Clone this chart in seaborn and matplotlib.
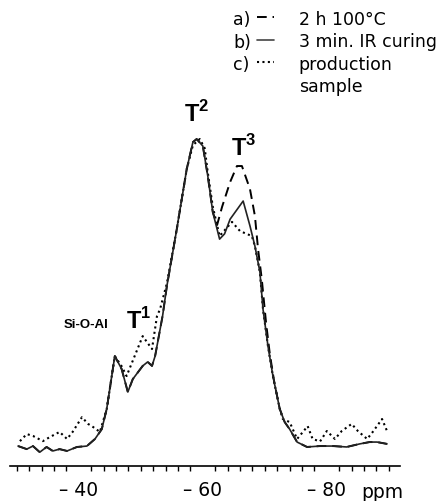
import numpy as np
import pandas as pd
import matplotlib
matplotlib.use("Agg")
import matplotlib.pyplot as plt
from matplotlib.lines import Line2D
from matplotlib.ticker import MultipleLocator
import seaborn as sns

sns.set_style("white")
plt.rcParams['font.family'] = ['DejaVu Sans']
plt.rcParams['text.color'] = 'black'
plt.rcParams['xtick.color'] = 'black'
plt.rcParams['mathtext.fontset'] = 'custom'
plt.rcParams['mathtext.bf'] = 'Liberation Sans:bold'
plt.rcParams['mathtext.rm'] = 'Liberation Sans:bold'

# b) 3 min. IR curing (solid)
ppm_b = [-30.2, -31.6, -32.6, -33.7, -34.8, -35.8, -36.9, -38.1, -39.7, -41.3,
         -42.6, -43.7, -44.5, -45.8, -46.9, -47.9, -48.7, -50.3, -51.1, -51.8,
         -52.3, -53.5, -54.2, -55.8, -57.4, -58.4, -59.0, -60.0, -60.8, -61.6,
         -62.7, -63.5, -64.4, -66.5, -67.6, -68.4, -69.2, -69.7, -70.5, -71.3,
         -72.4, -73.2, -74.0, -75.2, -76.8, -78.9, -81.0, -83.2, -85.3, -86.9,
         -88.1, -89.7]
int_b = [0, -1.0, 0, -2.0, -0.3, -1.6, -1.0, -1.6, -0.3, 0,
         2.3, 5.5, 12.1, 29.3, 25.1, 17.6, 21.8, 26.1, 27.4, 26.1,
         29.3, 42.3, 52.1, 70.7, 90.2, 99.0, 100, 97.7, 87.9, 76.2,
         67.4, 69.1, 73.9, 79.8, 71.7, 65.1, 56.7, 44.6, 32.6, 22.8,
         12.1, 7.8, 5.5, 1.3, -0.3, 0, 0, -0.3, 0.7, 1.3,
         1.3, 0.7]

# a) 2 h 100°C (dashed)
ppm_a = ppm_b[:30] + [-62.3, -63.1, -64.4, -65.5, -66.3, -67.6, -68.4, -68.9,
                      -69.5, -70.2, -70.8, -71.5] + ppm_b[40:]
int_a = int_b[:30] + [72.0, 77.9, 86.0, 91.2, 91.2, 83.7, 74.9, 64.2,
                      54.4, 40.0, 30.0, 21.0] + int_b[40:]

# c) production sample (dotted)
ppm_c = [-30.5, -31.6, -32.6, -34.2, -35.3, -36.9, -38.1, -39.0, -40.5, -41.5,
         -42.3, -43.4, -44.5, -45.8, -46.9, -47.7, -50.3, -51.8, -52.6, -53.1,
         -54.2, -55.8, -57.4, -58.4, -59.5, -60.3, -60.8, -61.6, -62.7, -64.7,
         -66.0, -67.9, -68.4, -69.2, -69.7, -70.5, -71.3, -72.4, -72.9, -74.0,
         -75.2, -76.5, -76.9, -77.7, -78.9, -80.0, -81.3, -82.4, -84.0, -85.0,
         -86.5, -87.4, -88.9, -89.7]
int_c = [1.6, 3.9, 3.3, 1.6, 2.9, 4.6, 2.3, 4.6, 9.4, 7.2,
         6.2, 4.6, 12.1, 29.3, 26.0, 22.8, 35.8, 31.6, 42.3, 44.6,
         53.0, 70.7, 90.2, 98.0, 100, 97.0, 89.0, 78.0, 68.4, 73.0,
         70.0, 68.4, 65.1, 56.7, 44.6, 32.6, 22.8, 12.1, 8.8, 7.8,
         2.3, 5.5, 6.5, 2.3, 1.5, 4.9, 2.3, 4.9, 7.2, 4.9,
         2.3, 4.6, 8.8, 4.9]

major_ticks = [-40, -60, -80]
major_labels = ["– 40", "– 60", "– 80"]

dash_a = (0, (5, 3))
dot_c = (0, (1, 1.6))

fig = plt.figure(figsize=(4.43, 5.02), dpi=100)
ax = fig.add_axes([0.0226, 0.0697, 0.8804, 0.9303])

sns.lineplot(x=ppm_c, y=int_c, ax=ax, color="black", lw=1.5, linestyle=dot_c, sort=False)
sns.lineplot(x=ppm_a, y=int_a, ax=ax, color="black", lw=1.4, linestyle=dash_a, sort=False)
sns.lineplot(x=ppm_b, y=int_b, ax=ax, color="#222222", lw=1.2, sort=False)

ax.set_xlim(-28.9, -91.8)
ax.set_ylim(-6.5, 145.6)
ax.set_xticks(major_ticks)
ax.set_xticklabels(major_labels, fontsize=13.5)
ax.xaxis.set_minor_locator(MultipleLocator(2))
ax.tick_params(axis="x", which="major", direction="out", length=6, width=1, pad=4)
ax.tick_params(axis="x", which="minor", direction="out", length=3.5, width=1, bottom=True)
ax.set_yticks([])
for s in ["left", "top", "right"]:
    ax.spines[s].set_visible(False)
ax.spines["bottom"].set_linewidth(1.2)
ax.spines["bottom"].set_color("black")
ax.set_xlabel("")
ax.set_ylabel("")
ax.text(-85.6, -14.8, "ppm", fontsize=13.5, ha="left", va="center", clip_on=False)

# peak labels
ax.text(-59.0, 108.5, r"$\mathbf{T}^{\mathbf{2}}$", fontsize=17, ha="center", va="center")
ax.text(-66.6, 97.5, r"$\mathbf{T}^{\mathbf{3}}$", fontsize=17, ha="center", va="center")
ax.text(-49.6, 41.0, r"$\mathbf{T}^{\mathbf{1}}$", fontsize=17, ha="center", va="center")
ax.text(-41.2, 39.7, "Si-O-Al", fontsize=9.5, fontweight="bold",
        family="Liberation Sans", ha="center", va="center")

# legend
handles = [Line2D([], [], color="black", lw=1.4, linestyle=dash_a),
           Line2D([], [], color="#444444", lw=1.2),
           Line2D([], [], color="black", lw=1.5, linestyle=dot_c)]
labels = ["2 h 100°C", "3 min. IR curing", "production"]
leg = ax.legend(handles, labels, loc="upper left", bbox_to_anchor=(0.58, 0.979),
                bbox_transform=fig.transFigure, frameon=False, fontsize=12.5,
                handlelength=1.0, handletextpad=1.4, borderpad=0, borderaxespad=0,
                labelspacing=0.26)
fig.text(0.675, 0.826, "sample", fontsize=12.5, ha="left", va="center")
for t, yy in zip(["a)", "b)", "c)"], [0.960, 0.914, 0.871]):
    fig.text(0.527, yy, t, fontsize=12.5, ha="left", va="center")

fig.savefig("out.png", dpi=100)
